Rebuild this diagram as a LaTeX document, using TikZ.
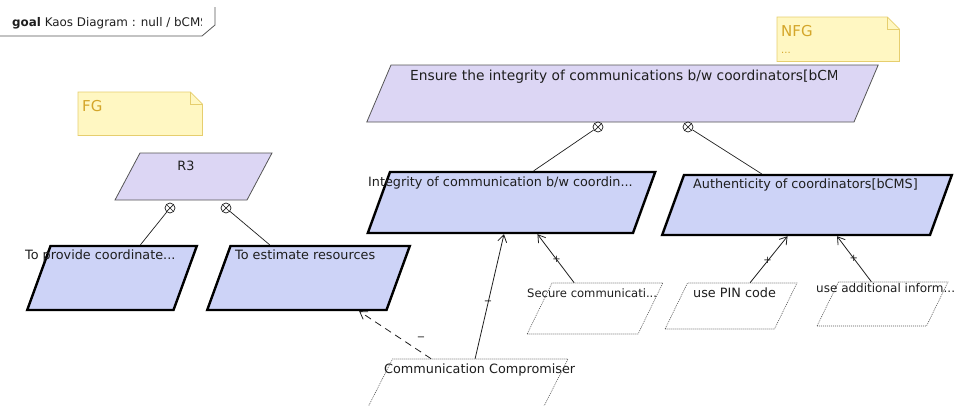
\documentclass[tikz,border=0pt]{standalone}
\usepackage{fontspec}
\setmainfont{DejaVu Sans}
\usetikzlibrary{shapes.geometric, arrows.meta, calc}
\definecolor{goalfill}{HTML}{DCD6F4}
\definecolor{leaffill}{HTML}{CDD3F7}
\definecolor{goalline}{HTML}{555555}
\definecolor{notefill}{HTML}{FFF7C2}
\definecolor{noteline}{HTML}{E6CE6E}
\definecolor{notetext}{HTML}{D4A62A}
\definecolor{textcol}{HTML}{1E1E1E}
\tikzstyle{goal} = [
    trapezium,
    trapezium left angle=70,
    trapezium right angle=110,
    inner sep=0pt,
    text depth=0pt,
    draw=goalline,
    fill=goalfill,
    line width=0.8pt
]
\tikzstyle{leafgoal} = [
    goal,
    draw=black,
    fill=leaffill,
    line width=2.4pt
]
\tikzstyle{expectation} = [
    goal,
    trapezium left angle=64,
    trapezium right angle=116,
    fill=white,
    line width=0.6pt,
    dash pattern=on 1pt off 1pt
]
\tikzstyle{goaltext} = [
    inner sep=0pt,
    anchor=base west,
    text=textcol,
    font=\fontsize{12.8}{15}\selectfont
]
\tikzstyle{note} = [
    rectangle,
    anchor=north west,
    inner sep=0pt
]
\tikzstyle{notebody} = [
    draw=noteline,
    fill=notefill,
    line width=0.8pt
]
\tikzstyle{notetitle} = [
    inner sep=0pt,
    anchor=base west,
    text=notetext,
    font=\fontsize{15}{18}\selectfont
]
\tikzstyle{andref} = [
    circle,
    draw=textcol,
    fill=white,
    inner sep=0pt,
    minimum size=10pt,
    line width=0.7pt,
    path picture={
        \draw [line width=0.7pt] (path picture bounding box.north west) -- (path picture bounding box.south east)
            (path picture bounding box.north east) -- (path picture bounding box.south west);
    }
]
\tikzstyle{refine} = [line width=0.7pt, draw=textcol]
\tikzstyle{arrow} = [line width=0.8pt, draw=textcol, -{Straight Barb[length=7pt,width=9pt]}]
\tikzstyle{sign} = [inner sep=0pt, text=textcol, font=\fontsize{10}{10}\selectfont]

\begin{document}
\begin{tikzpicture}[x=1pt, y=-1pt]

\useasboundingbox (0,0) rectangle (954,405);
\clip (0,0) rectangle (954,405);

\begin{scope}
\clip (0,0) rectangle (201,36);
\node (title) [goaltext, font=\fontsize{11.9}{14}\selectfont] at (12,26) {\textbf{goal} Kaos Diagram : null / bCMS};
\end{scope}
\draw [goalline, line width=0.8pt] (0,36) -- (202,36) -- (215,25) -- (215,7);

\node (fg) [note, minimum width=124, minimum height=43] at (78,92) {};
\filldraw [notebody] (fg.north west) -- ($(fg.north east)+(-12,0)$) -- ($(fg.north east)+(0,12)$) -- (fg.south east) -- (fg.south west) -- cycle;
\draw [notebody, fill=none] ($(fg.north east)+(-12,0)$) -- ($(fg.north east)+(-12,12)$) -- ($(fg.north east)+(0,12)$);
\node (fg text) [notetitle] at (82,111) {FG};

\node (nfg) [note, minimum width=122, minimum height=44] at (777,17) {};
\filldraw [notebody] (nfg.north west) -- ($(nfg.north east)+(-12,0)$) -- ($(nfg.north east)+(0,12)$) -- (nfg.south east) -- (nfg.south west) -- cycle;
\draw [notebody, fill=none] ($(nfg.north east)+(-12,0)$) -- ($(nfg.north east)+(-12,12)$) -- ($(nfg.north east)+(0,12)$);
\node (nfg text) [notetitle] at (781,36) {NFG};
\node (nfg dots) [notetitle, font=\fontsize{10}{12}\selectfont] at (781,53) {...};

\node (r3) [goal, trapezium left angle=62, trapezium right angle=118, text width=107, text height=47] at (193.5,176.5) {};
\node (r3 text) [goaltext, anchor=base] at (186,170) {R3};

\node (ensure) [goal, trapezium left angle=67, trapezium right angle=113, text width=463, text height=57] at (622.5,93.5) {};
\begin{scope}
\clip (380,60) rectangle (836,100);
\node (ensure text) [goaltext, font=\fontsize{13.8}{16}\selectfont] at (410,80) {Ensure the integrity of communications b/w coordinators[bCMS]};
\end{scope}

\node (provide) [leafgoal, text width=123, text height=64] at (112,278) {};
\node (provide text) [goaltext] at (25,259) {To provide coordinate...};

\node (estimate) [leafgoal, text width=156, text height=64] at (308.5,278) {};
\node (estimate text) [goaltext] at (235,259) {To estimate resources};

\node (integrity) [leafgoal, text width=243, text height=61] at (511.5,202.5) {};
\node (integrity text) [goaltext] at (368,186) {Integrity of communication b/w coordin...};

\node (auth) [leafgoal, text width=246, text height=60] at (807,205) {};
\node (auth text) [goaltext] at (693,188) {Authenticity of coordinators[bCMS]};

\node (secure) [expectation, text width=86, text height=51] at (595,308.5) {};
\node (secure text) [goaltext, font=\fontsize{11.6}{14}\selectfont] at (527,297) {Secure communicati...};

\node (pin) [expectation, text width=87, text height=46] at (731,306) {};
\node (pin text) [goaltext] at (693,297) {use PIN code};

\node (addinfo) [expectation, text width=88, text height=44] at (882.5,304) {};
\node (addinfo text) [goaltext, font=\fontsize{12}{15}\selectfont] at (816,292) {use additional inform...};

\node (compromiser) [expectation, trapezium left angle=63, trapezium right angle=117, text width=150, text height=50] at (467.5,384) {};
\node (compromiser text) [goaltext] at (384,373) {Communication Compromiser};

\node (r3 and a) [andref] at (170,208) {};
\node (r3 and b) [andref] at (226,208) {};
\node (ensure and a) [andref] at (598,127) {};
\node (ensure and b) [andref] at (688,127) {};

\draw [refine] (r3 and a) -- ($(provide.top left corner)!0.61!(provide.top right corner)$);
\draw [refine] (r3 and b) -- ($(estimate.top left corner)!0.22!(estimate.top right corner)$);
\draw [refine] (ensure and a) -- ($(integrity.top left corner)!0.54!(integrity.top right corner)$);
\draw [refine] (ensure and b) -- ($(auth.top left corner)!0.29!(auth.top right corner)$);

\draw [arrow] ($(compromiser.top left corner)!0.47!(compromiser.top right corner)$) -- ($(integrity.bottom left corner)!0.515!(integrity.bottom right corner)$)
    node [sign, pos=0.45] {−};
\draw [arrow, dash pattern=on 7pt off 5pt] ($(compromiser.top left corner)!0.22!(compromiser.top right corner)$) -- ($(estimate.bottom left corner)!0.845!(estimate.bottom right corner)$)
    node [sign, pos=0.43, xshift=21] {−};
\draw [arrow] ($(secure.top left corner)!0.2!(secure.top right corner)$) -- ($(integrity.bottom left corner)!0.64!(integrity.bottom right corner)$)
    node [sign, pos=0.48] {+};
\draw [arrow] ($(pin.top left corner)!0.57!(pin.top right corner)$) -- ($(auth.bottom left corner)!0.47!(auth.bottom right corner)$)
    node [sign, pos=0.47] {+};
\draw [arrow] ($(addinfo.top left corner)!0.30!(addinfo.top right corner)$) -- ($(auth.bottom left corner)!0.653!(auth.bottom right corner)$)
    node [sign, pos=0.51] {+};

\end{tikzpicture}
\end{document}
